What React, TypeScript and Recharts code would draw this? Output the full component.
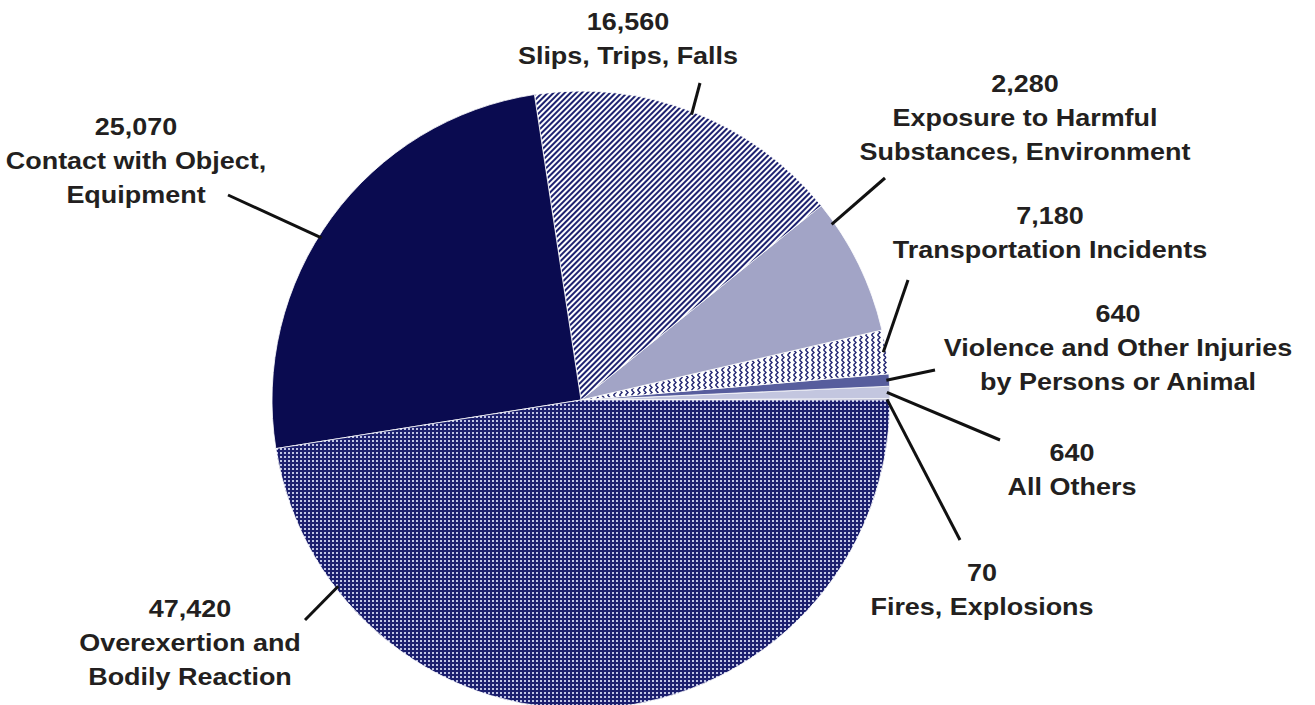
import { PieChart, Pie, Cell } from "recharts";

// slices go counter-clockwise from 3 o'clock
const categories = [
  "Fires, Explosions",
  "All Others",
  "Violence and Other Injuries\nby Persons or Animal",
  "Transportation Incidents",
  "Exposure to Harmful\nSubstances, Environment",
  "Slips, Trips, Falls",
  "Contact with Object,\nEquipment",
  "Overexertion and\nBodily Reaction",
];
const values = [70, 640, 640, 2280, 7180, 16560, 25070, 47420];
const printedValues = ["70", "640", "640", "7,180", "2,280", "16,560", "25,070", "47,420"];

const fills = [
  "#1c1f6e",
  "#c3c6df",
  "#575d9d",
  "url(#zigzag)",
  "#a2a4c6",
  "url(#diag)",
  "#0a0b50",
  "url(#dots)",
];

// label placement: angle where the leader starts (null = slice middle), leader end, text block
const labelLayout = [
  { angle: null, end: [960, 540], tx: 982, ty: 581 },
  { angle: null, end: [1000, 440], tx: 1072, ty: 461 },
  { angle: null, end: [935, 370], tx: 1118, ty: 322 },
  { angle: null, end: [908, 280], tx: 1050, ty: 224 },
  { angle: 35, end: [885, 178], tx: 1025, ty: 92 },
  { angle: null, end: [700, 83], tx: 628, ty: 30 },
  { angle: 148, end: [228, 195], tx: 136, ty: 135 },
  { angle: 217.5, end: [305, 620], tx: 190, ty: 617 },
];

const data = categories.map((name, i) => ({ name, value: values[i] }));

const RAD = Math.PI / 180;

const renderLabel = (props: any) => {
  const { cx, cy, midAngle, outerRadius, index } = props;
  const lay = labelLayout[index];
  const a = (lay.angle ?? midAngle) * RAD;
  const r = outerRadius - 3;
  const sx = cx + r * Math.cos(a);
  const sy = cy - r * Math.sin(a);
  const lines = [printedValues[index], ...categories[index].split("\n")];
  return (
    <g key={`lbl-${index}`}>
      <line x1={sx} y1={sy} x2={lay.end[0]} y2={lay.end[1]} stroke="#111" strokeWidth={3} />
      <text
        x={0}
        y={0}
        transform={`translate(${lay.tx},${lay.ty}) scale(1.1,1)`}
        textAnchor="middle"
        fontFamily="'Liberation Sans', Arial, sans-serif"
        fontWeight="bold"
        fontSize={24.5}
        fill="#231f20"
      >
        {lines.map((t, k) => (
          <tspan key={k} x={0} y={k * 34}>
            {t}
          </tspan>
        ))}
      </text>
    </g>
  );
};

export default function App() {
  return (
    <div style={{ position: "absolute", left: 0, top: 0, background: "#fff" }}>
      <PieChart width={1315} height={705} margin={{ top: 0, right: 0, bottom: 0, left: 0 }}>
        <defs>
          <pattern id="dots" patternUnits="userSpaceOnUse" width={4} height={4}>
            <rect width={4} height={4} fill="#1c1f6e" />
            <rect x={0} y={0} width={2} height={2} fill="#c0c4e4" />
          </pattern>
          <pattern id="diag" patternUnits="userSpaceOnUse" width={4} height={4} patternTransform="rotate(45)">
            <rect width={4} height={4} fill="#fff" />
            <rect x={0} y={0} width={2} height={4} fill="#1e2270" />
          </pattern>
          <pattern id="zigzag" patternUnits="userSpaceOnUse" width={6} height={5}>
            <rect width={6} height={5} fill="#fff" />
            <path d="M1.5,0 L4,2.5 L1.5,5" fill="none" stroke="#1e2270" strokeWidth={1.4} />
          </pattern>
        </defs>
        <Pie
          data={data}
          dataKey="value"
          nameKey="name"
          cx={581}
          cy={400}
          outerRadius={309}
          startAngle={0}
          endAngle={360}
          stroke="#fff"
          strokeWidth={0.8}
          label={renderLabel}
          labelLine={false}
          isAnimationActive={false}
        >
          {data.map((d, i) => (
            <Cell key={d.name} fill={fills[i]} />
          ))}
        </Pie>
      </PieChart>
    </div>
  );
}
